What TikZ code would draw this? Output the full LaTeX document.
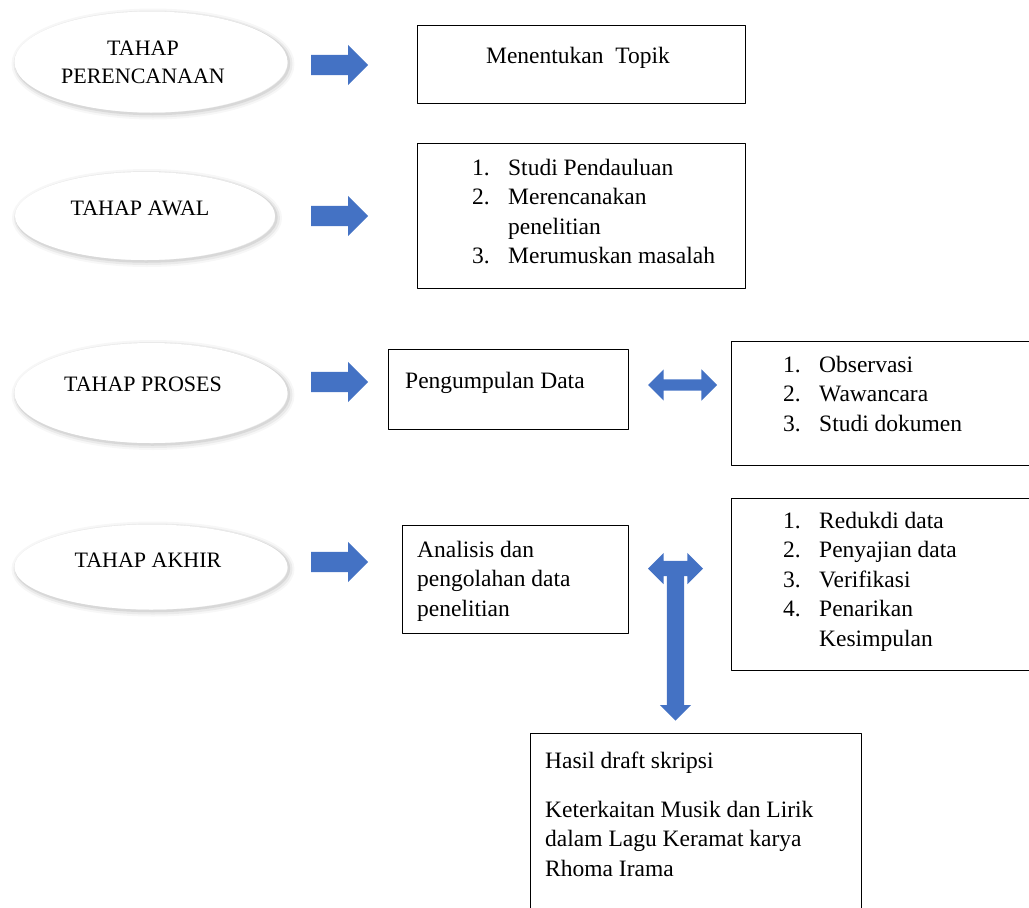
\documentclass[tikz,border=0pt]{standalone}
\usepackage{fontspec}
\setmainfont{Liberation Serif}
\usepackage{tikz}
\usetikzlibrary{shapes.geometric,shapes.arrows}
\definecolor{wordblue}{HTML}{4472C4}
\newcommand{\lnum}[1]{\makebox[36pt][l]{#1}}

\begin{document}
\begin{tikzpicture}[x=1pt,y=-1pt,join=round,
        stage/.style={ellipse,fill=white,inner sep=0pt,
            preaction={draw=black,line width=10pt,opacity=.03,transform canvas={xshift=2pt,yshift=-2pt}},
            preaction={draw=black,line width=6pt,opacity=.05,transform canvas={xshift=2pt,yshift=-2pt}},
            preaction={draw=black,line width=2.5pt,opacity=.08,transform canvas={xshift=1.5pt,yshift=-1.5pt}}},
        stagetxt/.style={anchor=base,inner sep=0pt,font=\fontsize{22}{28}\selectfont},
        box/.style={draw,line width=1.2pt,anchor=north west,inner sep=0pt},
        txt/.style={anchor=base west,inner sep=0pt,font=\fontsize{23.5}{29.5}\selectfont},
        blk/.style={single arrow,fill=wordblue,inner sep=10pt,minimum height=57,minimum width=40,single arrow head extend=10,anchor=tail},
        dblk/.style={double arrow,fill=wordblue,minimum width=31}] % tahapan penelitian
        \path[use as bounding box,clip](0,0) rectangle (1029,908);
        \node[stage,minimum width=273,minimum height=101] (e1) at (151,62) {};
        \node[stage,minimum width=260,minimum height=88] (e2) at (145,216) {};
        \node[stage,minimum width=273,minimum height=100] (e3) at (151,393) {};
        \node[stage,minimum width=273,minimum height=85] (e4) at (151,567) {};
        \node[stagetxt] (e1t) at (143,55) {\begin{tabular}[t]{@{}c@{}}TAHAP\\PERENCANAAN\end{tabular}};
        \node[stagetxt] (e2t) at (140,215) {TAHAP AWAL};
        \node[stagetxt] (e3t) at (143,391) {TAHAP PROSES};
        \node[stagetxt] (e4t) at (148,567) {TAHAP AKHIR};
        \node[blk] (a1) at (311,65) {};
        \node[blk] (a2) at (311,216) {};
        \node[blk] (a3) at (311,382) {};
        \node[blk] (a4) at (311,562) {};
        \node[box,minimum width=328,minimum height=78] (b1) at (417,25) {};
        \node[box,minimum width=328,minimum height=145] (b2) at (417,143) {};
        \node[box,minimum width=240,minimum height=80] (b3) at (388,349) {};
        \node[box,minimum width=310,minimum height=124] (b4) at (731,341) {};
        \node[box,minimum width=226,minimum height=108] (b5) at (402,525) {};
        \node[box,minimum width=310,minimum height=172] (b6) at (731,498) {};
        \node[box,minimum width=331,minimum height=190] (b7) at (530,733) {};
        \node[txt,anchor=base] (b1t) at (578,63) {Menentukan~ Topik};
        \node[txt] (b2t) at (472,175) {\begin{tabular}[t]{@{}l@{}}\lnum{1.}Studi Pendauluan\\\lnum{2.}Merencanakan\\\lnum{}penelitian\\\lnum{3.}Merumuskan masalah\end{tabular}};
        \node[txt] (b3t) at (405,388) {Pengumpulan Data};
        \node[txt] (b4t) at (783,372) {\begin{tabular}[t]{@{}l@{}}\lnum{1.}Observasi\\\lnum{2.}Wawancara\\\lnum{3.}Studi dokumen\end{tabular}};
        \node[txt] (b5t) at (417,557) {\begin{tabular}[t]{@{}l@{}}Analisis dan\\pengolahan data\\penelitian\end{tabular}};
        \node[txt] (b6t) at (783,528) {\begin{tabular}[t]{@{}l@{}}\lnum{1.}Redukdi data\\\lnum{2.}Penyajian data\\\lnum{3.}Verifikasi\\\lnum{4.}Penarikan\\\lnum{}Kesimpulan\end{tabular}};
        \node[txt] (b7t) at (545,768) {\begin{tabular}[t]{@{}l@{}}Hasil draft skripsi\\[19.5pt]Keterkaitan Musik dan Lirik\\dalam Lagu Keramat karya\\Rhoma Irama\end{tabular}};
        \node[dblk,inner sep=5.5pt,minimum height=69,double arrow head extend=10] (d1) at (682.5,385) {};
        \node[dblk,inner sep=7.5pt,minimum height=55,double arrow head extend=8] (d2) at (675.5,568.5) {};
        \node[single arrow,fill=wordblue,inner sep=8.5pt,shape border rotate=270,minimum height=152,minimum width=31,single arrow head extend=7,anchor=tail] (d3) at (d2.center) {};
    \end{tikzpicture}
\end{document}
